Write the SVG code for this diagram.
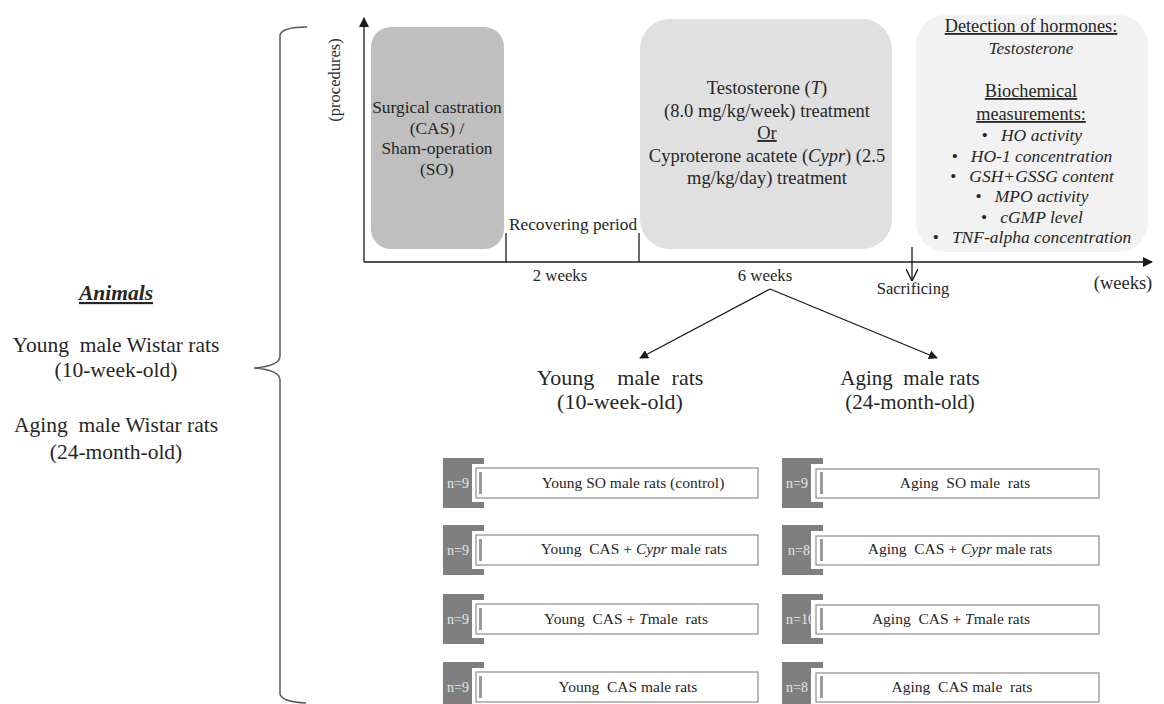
<svg xmlns="http://www.w3.org/2000/svg" width="1164" height="704" viewBox="0 0 1164 704">
<style>
text{font-family:"Liberation Serif","Times New Roman",serif;fill:#262626;}
.m{text-anchor:middle;}
.i{font-style:italic;}
.u{text-decoration:underline;}
.tab{fill:#7f7f7f;}
.tabtxt{fill:#e6e6e6;font-size:14px;}
.gbox{fill:#fff;stroke:#8c8c8c;stroke-width:1.2;}
.gbar{fill:#9a9a9a;}
.gt{font-size:15.5px;text-anchor:middle;}
.bl{font-size:17.5px;font-style:italic;text-anchor:middle;}
.ln{stroke:#1a1a1a;stroke-width:1.3;fill:none;}
</style>
<defs>
<marker id="ah" viewBox="0 0 10 10" refX="9" refY="5" markerWidth="9" markerHeight="9" orient="auto" markerUnits="userSpaceOnUse">
<path d="M0,0 L10,5 L0,10 z" fill="#1a1a1a"/>
</marker>
<marker id="ahs" viewBox="0 0 10 10" refX="9" refY="5" markerWidth="10" markerHeight="10" orient="auto" markerUnits="userSpaceOnUse">
<path d="M0,0 L10,5 L0,10 z" fill="#1a1a1a"/>
</marker>
<marker id="open" viewBox="0 0 10 10" refX="10" refY="5" markerWidth="12" markerHeight="12" orient="auto" markerUnits="userSpaceOnUse">
<path d="M0,0 L10,5 L0,10" fill="none" stroke="#1a1a1a" stroke-width="1.2"/>
</marker>
</defs>

<!-- Animals -->
<g id="animals">
<text x="116" y="300" class="m i u" font-size="21.5" font-weight="bold">Animals</text>
<text x="116" y="352" class="m" font-size="21.5" xml:space="preserve">Young  male Wistar rats</text>
<text x="116" y="377" class="m" font-size="21.5">(10-week-old)</text>
<text x="116" y="432" class="m" font-size="21.5" xml:space="preserve">Aging  male Wistar rats</text>
<text x="116" y="459" class="m" font-size="21.5">(24-month-old)</text>
</g>

<g id="brace">
<path d="M307,27 Q282,27 280,35 L280,356 Q280,366 254,368 Q280,370 280,380 L280,694 Q282,702 306,703" fill="none" stroke="#595959" stroke-width="1.5"/>
</g>

<!-- Procedure boxes -->
<g id="box-surgery">
<rect x="371" y="27" width="133" height="222" rx="20" fill="#bfbfbf"/>
<text x="437" y="113" class="m" font-size="17.4">Surgical castration</text>
<text x="437" y="134" class="m" font-size="17.4">(CAS) /</text>
<text x="437" y="154" class="m" font-size="17.4">Sham-operation</text>
<text x="437" y="175" class="m" font-size="17.4">(SO)</text>
</g>

<g id="box-treatment">
<rect x="640" y="19" width="252" height="230" rx="30" fill="#e0e0e0"/>
<text x="767" y="94" class="m" font-size="18.5">Testosterone (<tspan class="i">T</tspan>)</text>
<text x="767" y="117" class="m" font-size="18.5">(8.0 mg/kg/week) treatment</text>
<text x="767" y="139" class="m u" font-size="18.5">Or</text>
<text x="767" y="162" class="m" font-size="18.5">Cyproterone acatete (<tspan class="i">Cypr</tspan>) (2.5</text>
<text x="767" y="184" class="m" font-size="18.5">mg/kg/day) treatment</text>
</g>

<g id="box-measure">
<rect x="916" y="15" width="232" height="237" rx="30" fill="#f2f2f2"/>
<text x="1031" y="32" class="m u" font-size="18.3">Detection of hormones:</text>
<text x="1031" y="54" class="m i" font-size="17">Testosterone</text>
<text x="1031" y="97" class="m u" font-size="18.3">Biochemical</text>
<text x="1031" y="120" class="m u" font-size="18.3">measurements:</text>
<text x="1032" y="141" class="bl"><tspan font-style="normal">•</tspan><tspan dx="13">HO activity</tspan></text>
<text x="1032" y="162" class="bl"><tspan font-style="normal">•</tspan><tspan dx="13">HO-1 concentration</tspan></text>
<text x="1032" y="182" class="bl"><tspan font-style="normal">•</tspan><tspan dx="13">GSH+GSSG content</tspan></text>
<text x="1032" y="202" class="bl"><tspan font-style="normal">•</tspan><tspan dx="13">MPO activity</tspan></text>
<text x="1032" y="223" class="bl"><tspan font-style="normal">•</tspan><tspan dx="13">cGMP level</tspan></text>
<text x="1032" y="243" class="bl"><tspan font-style="normal">•</tspan><tspan dx="13">TNF-alpha concentration</tspan></text>
</g>

<!-- Axes & connectors -->
<g id="connectors">
<line x1="364" y1="262" x2="364" y2="18" class="ln" marker-end="url(#ahs)"/>
<line x1="364" y1="262" x2="1152" y2="262" class="ln" marker-end="url(#ahs)"/>
<line x1="506" y1="233" x2="506" y2="262" class="ln" stroke-width="1"/>
<line x1="639" y1="233" x2="639" y2="262" class="ln" stroke-width="1"/>
<line x1="912" y1="247" x2="912" y2="281" class="ln" stroke-width="1.1" marker-end="url(#open)"/>
<line x1="770" y1="289" x2="640" y2="358" class="ln" marker-end="url(#ah)"/>
<line x1="770" y1="289" x2="937" y2="358" class="ln" marker-end="url(#ah)"/>
</g>

<g id="axis-labels">
<text transform="translate(340,80) rotate(-90)" class="m" font-size="16.5">(procedures)</text>
<text x="573" y="230" class="m" font-size="17.3">Recovering period</text>
<text x="560" y="281" class="m" font-size="16.8">2 weeks</text>
<text x="765" y="281" class="m" font-size="16.8">6 weeks</text>
<text x="913" y="294" class="m" font-size="16.5">Sacrificing</text>
<text x="1123" y="289" class="m" font-size="18.5">(weeks)</text>
</g>

<g id="young-header">
<text x="620" y="385" class="m" font-size="22" word-spacing="6" xml:space="preserve">Young  male rats</text>
<text x="620" y="409" class="m" font-size="22">(10-week-old)</text>
</g>
<g id="aging-header">
<text x="910" y="385" class="m" font-size="21" xml:space="preserve">Aging  male rats</text>
<text x="910" y="409" class="m" font-size="21">(24-month-old)</text>
</g>

<!-- Young groups -->
<g id="young-so">
<rect class="tab" x="443" y="458" width="41" height="50"/>
<text class="tabtxt" x="447" y="488">n=9</text>
<rect x="472" y="464" width="290" height="38" fill="#fff"/>
<rect class="gbox" x="476" y="468" width="282" height="30"/>
<rect class="gbar" x="479" y="472" width="3" height="22"/>
<text class="gt" x="633" y="488">Young SO male rats (control)</text>
</g>
<g id="young-cas-cypr">
<rect class="tab" x="443" y="525" width="41" height="50"/>
<text class="tabtxt" x="447" y="555">n=9</text>
<rect x="472" y="531" width="290" height="38" fill="#fff"/>
<rect class="gbox" x="476" y="535" width="282" height="30"/>
<rect class="gbar" x="479" y="539" width="3" height="22"/>
<text class="gt" x="634" y="554" xml:space="preserve">Young  CAS + <tspan class="i">Cypr</tspan> male rats</text>
</g>
<g id="young-cas-t">
<rect class="tab" x="443" y="594" width="41" height="50"/>
<text class="tabtxt" x="447" y="624">n=9</text>
<rect x="472" y="600" width="290" height="38" fill="#fff"/>
<rect class="gbox" x="476" y="604" width="282" height="30"/>
<rect class="gbar" x="479" y="608" width="3" height="22"/>
<text class="gt" x="626" y="624" xml:space="preserve">Young  CAS + <tspan class="i">T</tspan>male  rats</text>
</g>
<g id="young-cas">
<rect class="tab" x="443" y="662" width="41" height="50"/>
<text class="tabtxt" x="447" y="692">n=9</text>
<rect x="472" y="668" width="290" height="38" fill="#fff"/>
<rect class="gbox" x="476" y="672" width="282" height="30"/>
<rect class="gbar" x="479" y="676" width="3" height="22"/>
<text class="gt" x="628" y="692" xml:space="preserve">Young  CAS male rats</text>
</g>

<!-- Aging groups -->
<g id="aging-so">
<rect class="tab" x="782" y="458" width="41" height="50"/>
<text class="tabtxt" x="786" y="488">n=9</text>
<rect x="811" y="464" width="290" height="38" fill="#fff"/>
<rect class="gbox" x="816" y="469" width="283" height="29"/>
<rect class="gbar" x="820" y="472" width="3" height="22"/>
<text class="gt" x="965" y="488" xml:space="preserve">Aging  SO male  rats</text>
</g>
<g id="aging-cas-cypr">
<rect class="tab" x="782" y="525" width="41" height="50"/>
<text class="tabtxt" x="788" y="555">n=8</text>
<rect x="811" y="531" width="290" height="38" fill="#fff"/>
<rect class="gbox" x="816" y="536" width="283" height="29"/>
<rect class="gbar" x="820" y="539" width="3" height="22"/>
<text class="gt" x="960" y="554" xml:space="preserve">Aging  CAS + <tspan class="i">Cypr</tspan> male rats</text>
</g>
<g id="aging-cas-t">
<rect class="tab" x="782" y="594" width="41" height="50"/>
<text class="tabtxt" x="786" y="624">n=10</text>
<rect x="811" y="600" width="290" height="38" fill="#fff"/>
<rect class="gbox" x="816" y="605" width="283" height="29"/>
<rect class="gbar" x="820" y="608" width="3" height="22"/>
<text class="gt" x="951" y="624" xml:space="preserve">Aging  CAS + <tspan class="i">T</tspan>male rats</text>
</g>
<g id="aging-cas">
<rect class="tab" x="782" y="662" width="41" height="50"/>
<text class="tabtxt" x="786" y="692">n=8</text>
<rect x="811" y="668" width="290" height="38" fill="#fff"/>
<rect class="gbox" x="816" y="673" width="283" height="29"/>
<rect class="gbar" x="820" y="676" width="3" height="22"/>
<text class="gt" x="962" y="692" xml:space="preserve">Aging  CAS male  rats</text>
</g>
</svg>
